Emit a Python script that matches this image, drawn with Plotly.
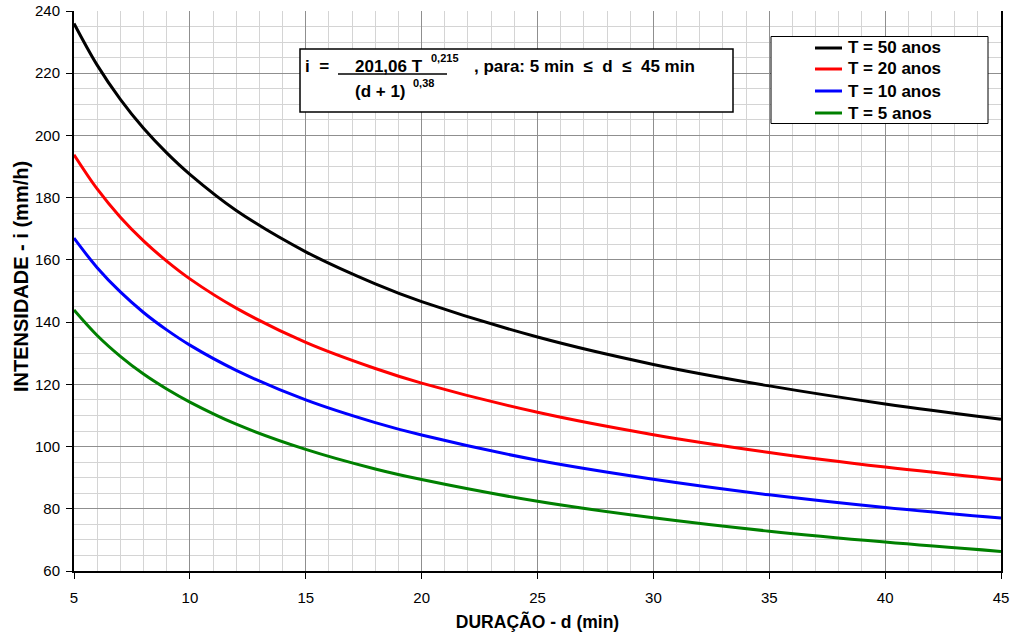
import plotly.graph_objects as go

# ---- data ----
durations = [5, 6, 7, 8, 9, 10, 12, 15, 18, 20, 25, 30, 35, 40, 45]
i_T50 = [236.0, 222.6, 211.6, 202.3, 194.4, 187.5, 175.9, 162.6, 152.3, 146.6, 135.2, 126.4, 119.5, 113.7, 108.8]
i_T20 = [193.8, 182.8, 173.7, 166.1, 159.6, 153.9, 144.5, 133.5, 125.1, 120.4, 111.0, 103.8, 98.1, 93.4, 89.4]
i_T10 = [167.0, 157.5, 149.7, 143.1, 137.5, 132.6, 124.5, 115.0, 107.7, 103.7, 95.6, 89.5, 84.5, 80.4, 77.0]
i_T5 = [143.9, 135.7, 129.0, 123.3, 118.5, 114.3, 107.2, 99.1, 92.8, 89.4, 82.4, 77.1, 72.8, 69.3, 66.3]
series_names = ["T = 50 anos", "T = 20 anos", "T = 10 anos", "T = 5 anos"]
series_values = [i_T50, i_T20, i_T10, i_T5]
colors = ["#000000", "#FF0000", "#0000FF", "#008000"]
x_ticks = [5, 10, 15, 20, 25, 30, 35, 40, 45]
y_ticks = [60, 80, 100, 120, 140, 160, 180, 200, 220, 240]

FONT = "Liberation Sans, Arial, Helvetica, sans-serif"
W, H = 1014, 636
L, R, T, B = 74, 13, 11, 65
PW, PH = W - L - R, H - T - B


def px_x(p):
    return (p - L) / PW


def px_y(p):
    return (H - B - p) / PH


fig = go.Figure()
for name, vals, col in zip(series_names, series_values, colors):
    fig.add_trace(go.Scatter(
        x=durations, y=vals, name=name, mode="lines",
        line=dict(color=col, width=3, shape="spline", smoothing=1.0),
        showlegend=False,
    ))

axis_common = dict(
    showgrid=True, gridcolor="#8f8f8f", gridwidth=1,
    showline=True, linecolor="#000000", linewidth=2,
    ticks="outside", tickcolor="#000000", tickwidth=1,
    tickfont=dict(family=FONT, size=15, color="#000000"),
    zeroline=False, automargin=False,
)

fig.update_layout(
    width=W, height=H,
    margin=dict(l=L, r=R, t=T, b=B, autoexpand=False),
    paper_bgcolor="#ffffff", plot_bgcolor="#ffffff",
    font=dict(family=FONT, color="#000000"),
    xaxis=dict(
        range=[5, 45], tickvals=x_ticks, ticktext=[str(v) for v in x_ticks],
        minor=dict(dtick=1, showgrid=True, gridcolor="#d4d4d4", gridwidth=1, ticks=""),
        ticklen=6, ticklabelstandoff=6,
        title=dict(text="DURAÇÃO - d (min)", standoff=11,
                   font=dict(family=FONT, size=17.5, weight="bold", color="#000000")),
        **axis_common,
    ),
    yaxis=dict(
        range=[60, 240], tickvals=y_ticks, ticktext=[str(v) for v in y_ticks],
        minor=dict(dtick=5, showgrid=True, gridcolor="#d4d4d4", gridwidth=1, ticks=""),
        ticklen=6, ticklabelstandoff=3, mirror=True,
        **axis_common,
    ),
    showlegend=False,
)

bold17 = dict(family=FONT, size=17, weight="bold", color="#000000")
bold11 = dict(family=FONT, size=11, weight="bold", color="#000000")

# legend frame and entries
fig.add_shape(type="rect", xref="paper", yref="paper",
              x0=px_x(771), x1=px_x(988), y0=px_y(123.5), y1=px_y(36.5),
              fillcolor="#ffffff", line=dict(color="#000000", width=1), layer="above")
legend_rows = [48, 69, 91, 113]
for name, col, yr in zip(series_names, colors, legend_rows):
    fig.add_shape(type="line", xref="paper", yref="paper",
                  x0=px_x(815), x1=px_x(842), y0=px_y(yr), y1=px_y(yr),
                  line=dict(color=col, width=3), layer="above")
    fig.add_annotation(text=name, xref="paper", yref="paper",
                       x=px_x(846), y=px_y(yr), xanchor="left", yanchor="middle",
                       showarrow=False, font=bold17)

# equation box
fig.add_shape(type="rect", xref="paper", yref="paper",
              x0=px_x(300), x1=px_x(733), y0=px_y(112), y1=px_y(49),
              fillcolor="#ffffff", line=dict(color="#000000", width=1.5), layer="above")
fig.add_shape(type="line", xref="paper", yref="paper",
              x0=px_x(338), x1=px_x(447), y0=px_y(74), y1=px_y(74),
              line=dict(color="#000000", width=1.5), layer="above")

eq_parts = [
    ("i  =", 303, 66, bold17),
    ("201,06 T", 353, 66, bold17),
    ("0,215", 429, 58, bold11),
    ("(d + 1)", 353, 91, bold17),
    ("0,38", 411, 83, bold11),
    (", para: 5 min  \u2264  d  \u2264  45 min", 472, 66, bold17),
]
for txt, xp, yp, f in eq_parts:
    fig.add_annotation(text=txt.replace("  ", "\u00a0\u00a0"), xref="paper", yref="paper",
                       x=px_x(xp), y=px_y(yp), xanchor="left", yanchor="middle",
                       showarrow=False, font=f)

# y axis title
fig.add_annotation(text="INTENSIDADE - i (mm/h)", xref="paper", yref="paper",
                   x=px_x(21), y=px_y(277), xanchor="center", yanchor="middle",
                   textangle=-90, showarrow=False,
                   font=dict(family=FONT, size=20, weight="bold", color="#000000"))

fig.write_html("out.html", config={"displayModeBar": False})

# remove the default 8px page margin so the figure sits at the window origin
with open("out.html", "r", encoding="utf-8") as fh:
    html = fh.read()
html = html.replace("<body>", '<body style="margin:0;padding:0;">', 1)
with open("out.html", "w", encoding="utf-8") as fh:
    fh.write(html)
